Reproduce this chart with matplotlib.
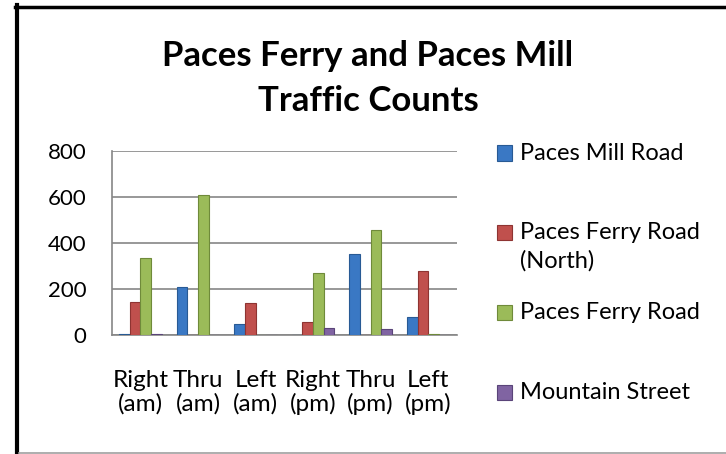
import matplotlib
matplotlib.use("Agg")
import matplotlib.pyplot as plt
from matplotlib.patches import Rectangle
from matplotlib.lines import Line2D
import numpy as np

plt.rcParams['font.family'] = ['Lato', 'DejaVu Sans']

categories = ["Right\n(am)", "Thru\n(am)", "Left\n(am)", "Right\n(pm)", "Thru\n(pm)", "Left\n(pm)"]
series_names = ["Paces Mill Road", "Paces Ferry Road\n(North)", "Paces Ferry Road", "Mountain Street"]
paces_mill = [3, 208, 48, 2, 351, 78]
paces_ferry_north = [142, 2, 139, 56, 2, 278]
paces_ferry = [333, 607, 2, 268, 455, 5]
mountain = [3, 2, 2, 29, 25, 2]
values = [paces_mill, paces_ferry_north, paces_ferry, mountain]
colors = ["#3A78C4", "#C0504D", "#9BBB59", "#8064A2"]
edges = ["#285A94", "#8E3432", "#6F8A3A", "#5A4479"]

W, H = 726, 454
fig = plt.figure(figsize=(W / 100, H / 100), dpi=100)
ax = fig.add_axes([111.7 / W, 1 - 335 / H, (457 - 111.7) / W, (335 - 151) / H])

x = np.arange(len(categories))
bw = 0.185
for i, (vals, c, ec) in enumerate(zip(values, colors, edges)):
    ax.bar(x + (i - 1.5) * bw, vals, bw, color=c, edgecolor=ec, linewidth=0.8, zorder=3)

ax.set_ylim(0, 800)
ax.set_xlim(-0.5, len(categories) - 0.5)
ax.set_yticks(range(0, 801, 200))
ax.set_xticks(x)
ax.set_xticklabels(categories, fontsize=17.5, linespacing=1.12)
ax.tick_params(axis='y', length=0, pad=18, labelsize=16)
ax.tick_params(axis='x', length=0, pad=25)
ax.grid(axis='y', color='#868686', linewidth=1.2, zorder=0)
for s in ['top', 'right']:
    ax.spines[s].set_visible(False)
for s in ['left', 'bottom']:
    ax.spines[s].set_color('#868686')
    ax.spines[s].set_linewidth(1.2)

# title
fig.text(368 / W, 1 - 56 / H, "Paces Ferry and Paces Mill", ha='center', va='center',
         fontsize=25, fontweight='bold')
fig.text(368 / W, 1 - 101 / H, "Traffic Counts", ha='center', va='center',
         fontsize=25, fontweight='bold')

# legend
leg_y = [153, 232, 312, 392]
for name, c, ec, yy in zip(series_names, colors, edges, leg_y):
    fig.patches.append(Rectangle((497 / W, 1 - (yy + 7.5) / H), 15 / W, 15 / H,
                                 facecolor=c, edgecolor=ec, linewidth=0.8,
                                 transform=fig.transFigure))
    fig.text(520 / W, 1 - (yy - 10) / H, name, ha='left', va='top', fontsize=17,
             linespacing=1.4)

# outer frame (cropped)
fig.add_artist(Line2D([17 / W, 17 / W], [0, 1 - 5 / H], color='black', linewidth=3,
                      transform=fig.transFigure))
fig.add_artist(Line2D([15 / W, 1], [1 - 6.5 / H, 1 - 6.5 / H], color='black', linewidth=2.5,
                      transform=fig.transFigure))
fig.add_artist(Line2D([19 / W, 1], [1 - 453 / H, 1 - 453 / H], color='#A0A0A0', linewidth=1.2,
                      transform=fig.transFigure))

fig.savefig("out.png", dpi=100)
